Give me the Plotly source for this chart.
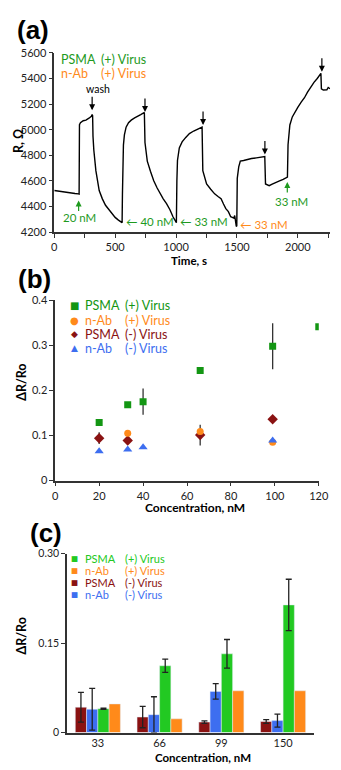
import plotly.graph_objects as go

W, H = 341, 770
FONT = "Lato"

# ---------- Panel (a) data: resistance trace ----------
time_s = [0, 60, 120, 170, 198, 204,
          207, 215, 238, 260, 285, 305, 311,
          315, 318, 325, 342, 369, 395, 421, 450, 474, 500, 527, 553, 557,
          560, 563, 568, 576, 590, 610, 632, 660, 685, 710, 737,
          740, 745, 764, 790, 817, 845, 869, 895, 922, 950, 975, 995, 1003,
          1007, 1012, 1027, 1050, 1080, 1110, 1145, 1180, 1211,
          1214, 1220, 1235, 1251, 1285, 1317, 1345, 1370, 1390, 1409, 1430, 1449, 1462, 1474, 1482, 1488, 1495,
          1499, 1503, 1515, 1528, 1555, 1580, 1620, 1660, 1700, 1725,
          1729, 1735, 1765, 1790, 1817, 1850, 1880, 1909,
          1915, 1920, 1935, 1955, 1975, 2000, 2028, 2055, 2080, 2105, 2133, 2160, 2186, 2190,
          2194, 2210, 2239, 2250, 2265]
resistance = [4525, 4515, 4508, 4502, 4499, 4497,
              5040, 5055, 5070, 5075, 5090, 5105, 5119,
              5110, 4950, 4840, 4678, 4525, 4460, 4410, 4375, 4346, 4315, 4294, 4276, 4274,
              4500, 4760, 4880, 4960, 5020, 5055, 5075, 5092, 5108, 5118, 5134,
              5130, 4900, 4755, 4675, 4602, 4545, 4499, 4460, 4423, 4375, 4320, 4285, 4274,
              4600, 4760, 4858, 4905, 4940, 4970, 4990, 5005, 5024,
              5020, 4680, 4630, 4576, 4535, 4499, 4478, 4461, 4420, 4384, 4360, 4320, 4315, 4310, 4330, 4285, 4244,
              4250, 4620, 4710, 4755, 4760, 4768, 4775, 4780, 4788, 4794,
              4790, 4576, 4563, 4575, 4589, 4600, 4612, 4627,
              4630, 4883, 5037, 5100, 5139, 5175, 5216, 5250, 5293, 5330, 5370, 5400, 5434, 5440,
              5319, 5310, 5312, 5330, 5320]
arrow_t = [311, 745, 1222, 1730, 2198]
arrow_r = [5152, 5139, 5037, 4807, 5452]

# ---------- Panel (b) data ----------
psma_pos_x = [20, 33, 40, 66, 99, 120]
psma_pos_y = [0.129, 0.168, 0.175, 0.244, 0.298, 0.341]
psma_pos_err = [0, 0, 0.029, 0, 0.051, 0]
nab_pos_x = [33, 66, 99]
nab_pos_y = [0.105, 0.109, 0.085]
psma_neg_x = [20, 33, 66, 99]
psma_neg_y = [0.094, 0.089, 0.101, 0.136]
psma_neg_err = [0.013, 0, 0.023, 0]
nab_neg_x = [20, 33, 40, 99]
nab_neg_y = [0.065, 0.069, 0.074, 0.089]

# ---------- Panel (c) data ----------
conc_labels = ["33", "66", "99", "150"]
bar_psma_neg = [0.0425, 0.026, 0.0175, 0.0185]
bar_psma_neg_err = [0.025, 0.018, 0.002, 0.003]
bar_nab_neg = [0.039, 0.030, 0.069, 0.020]
bar_nab_neg_err = [0.035, 0.030, 0.013, 0.011]
bar_psma_pos = [0.040, 0.112, 0.132, 0.214]
bar_psma_pos_err = [0.001, 0.011, 0.024, 0.043]
bar_nab_pos = [0.048, 0.023, 0.070, 0.070]

GREEN_T = "#1e9a1e"
GREEN_M = "#139613"
GREEN_B = "#22c922"
ORANGE = "#ff8a1a"
DRED = "#8a1212"
BLUE = "#3d6ef0"
AX = "#333333"


def px(xp):
    return xp / W


def py(yp):
    return 1 - yp / H


fig = go.Figure()

# Panel (a)
fig.add_trace(go.Scatter(x=time_s, y=resistance, mode="lines",
                         line=dict(color="black", width=1.4),
                         xaxis="x", yaxis="y", showlegend=False, hoverinfo="skip"))

# Panel (b)
fig.add_trace(go.Scatter(x=psma_pos_x, y=psma_pos_y, mode="markers",
                         marker=dict(symbol="square", size=7, color=GREEN_M),
                         error_y=dict(type="data", array=psma_pos_err, color="#333", width=0, thickness=1.3),
                         xaxis="x2", yaxis="y2", showlegend=False))
fig.add_trace(go.Scatter(x=psma_neg_x, y=psma_neg_y, mode="markers",
                         marker=dict(symbol="diamond", size=8, color=DRED),
                         error_y=dict(type="data", array=psma_neg_err, color="#333", width=0, thickness=1.3),
                         xaxis="x2", yaxis="y2", showlegend=False))
fig.add_trace(go.Scatter(x=nab_pos_x, y=nab_pos_y, mode="markers",
                         marker=dict(symbol="circle", size=7, color=ORANGE),
                         xaxis="x2", yaxis="y2", showlegend=False))
fig.add_trace(go.Scatter(x=nab_neg_x, y=nab_neg_y, mode="markers",
                         marker=dict(symbol="triangle-up", size=8, color=BLUE),
                         xaxis="x2", yaxis="y2", showlegend=False))

# Panel (c)
err_style = dict(type="data", color="#222", width=3, thickness=1.3)
fig.add_trace(go.Bar(x=conc_labels, y=bar_psma_neg, marker_color=DRED,
                     error_y=dict(array=bar_psma_neg_err, **err_style),
                     xaxis="x3", yaxis="y3", showlegend=False))
fig.add_trace(go.Bar(x=conc_labels, y=bar_nab_neg, marker_color=BLUE,
                     error_y=dict(array=bar_nab_neg_err, **err_style),
                     xaxis="x3", yaxis="y3", showlegend=False))
fig.add_trace(go.Bar(x=conc_labels, y=bar_psma_pos, marker_color=GREEN_B,
                     error_y=dict(array=bar_psma_pos_err, **err_style),
                     xaxis="x3", yaxis="y3", showlegend=False))
fig.add_trace(go.Bar(x=conc_labels, y=bar_nab_pos, marker_color=ORANGE,
                     xaxis="x3", yaxis="y3", showlegend=False))

axis_common = dict(showline=True, linecolor=AX, linewidth=1.5, ticks="outside",
                   ticklen=4, tickwidth=1.3, tickcolor=AX, showgrid=False, zeroline=False,
                   tickfont=dict(family=FONT, size=11, color="#222"))

fig.update_layout(
    width=W, height=H, margin=dict(l=0, r=0, t=0, b=0),
    paper_bgcolor="white", plot_bgcolor="white",
    barmode="group", bargap=0.27, bargroupgap=0,
    xaxis=dict(domain=[px(53.3), px(340)], range=[0, 2265], anchor="y",
               tickvals=[0, 250, 500, 750, 1000, 1250, 1500, 1750, 2000, 2250],
               ticktext=["0", "", "500", "", "1000", "", "1500", "", "2000", ""],
               **axis_common),
    yaxis=dict(domain=[py(229), py(46.7)], range=[4200, 5600], anchor="x",
               tickvals=[4200, 4400, 4600, 4800, 5000, 5200, 5400, 5600],
               **axis_common),
    xaxis2=dict(domain=[px(54.3), px(328.3)], range=[0, 120], anchor="y2",
                tickvals=[0, 20, 40, 60, 80, 100, 120], **axis_common),
    yaxis2=dict(domain=[py(481.7), py(298.3)], range=[0, 0.4], anchor="x2",
                tickvals=[0, 0.1, 0.2, 0.3, 0.4], ticktext=["0", "0.1", "0.2", "0.3", "0.4"],
                **axis_common),
    xaxis3=dict(domain=[px(66.5), px(323.3)], range=[-0.5, 3.5], anchor="y3",
                showline=True, linecolor=AX, linewidth=1.5, ticks="", showgrid=False,
                zeroline=False, tickfont=dict(family=FONT, size=11, color="#222")),
    yaxis3=dict(domain=[py(738), py(556)], range=[0, 0.30], anchor="x3",
                tickvals=[0, 0.15, 0.30], ticktext=["0", "0.15", "0.30"],
                **{**axis_common, "tickfont": dict(family=FONT, size=10.5, color="#222")}),
)

ann = []


def ptext(x, y, text, size=12.5, color="black", bold=False, xanchor="left", angle=0, family=FONT):
    t = f"<b>{text}</b>" if bold else text
    ann.append(dict(xref="paper", yref="paper", x=px(x), y=py(y), text=t, showarrow=False,
                    xanchor=xanchor, yanchor="middle", textangle=angle,
                    font=dict(family=family, size=size, color=color)))


def dtext(x, y, text, size=11.5, color="black", xanchor="center", family=FONT):
    ann.append(dict(xref="x", yref="y", x=x, y=y, text=text, showarrow=False,
                    xanchor=xanchor, yanchor="middle",
                    font=dict(family=family, size=size, color=color)))


def arrow(x, y, ay, color, length_px):
    ann.append(dict(xref="x", yref="y", x=x, y=y, ax=0, ay=ay * length_px, text="",
                    showarrow=True, arrowhead=2, arrowsize=1, arrowwidth=1.2,
                    arrowcolor=color, standoff=0, startstandoff=0))


# Panel labels
ptext(12, 23.5, "(a)", size=26, bold=True, family="Liberation Sans")
ptext(14, 276.5, "(b)", size=26, bold=True, family="Liberation Sans")
ptext(26, 535, "(c)", size=26, bold=True, family="Liberation Sans")

# Axis titles
ptext(16, 136, "R, Ω", size=12.5, bold=True, xanchor="center", angle=-90)
ptext(193, 257.5, "Time, s", size=11.5, bold=True, xanchor="center")
ptext(19, 382, "ΔR/Ro", size=12.5, bold=True, xanchor="center", angle=-90)
ptext(200, 509.5, "Concentration, nM", size=12, bold=True, xanchor="center")
ptext(19, 640, "ΔR/Ro", size=12.5, bold=True, xanchor="center", angle=-90)
ptext(208, 763, "Concentration, nM", size=11.5, bold=True, xanchor="center")

# Panel (a) legend
ptext(58, 53, "PSMA", color=GREEN_T)
ptext(100, 53, "(+) Virus", color=GREEN_T)
ptext(58, 68, "n-Ab", color=ORANGE)
ptext(100, 68, "(+) Virus", color=ORANGE)

# Panel (a) wash arrows
for t, r in zip(arrow_t, arrow_r):
    arrow(t, r, -1, "black", 15)
dtext(361, 5321, "wash", size=10.5)

# Panel (a) concentration labels
arrow(200, 4448, 1, GREEN_T, 12)
dtext(211, 4315, "20 nM", color=GREEN_T)
dtext(570, 4280, "← 40 nM", color=GREEN_T, xanchor="left")
dtext(1020, 4280, "← 33 nM", color=GREEN_T, xanchor="left")
dtext(1505, 4261, "← 33 nM", color=ORANGE, xanchor="left")
arrow(1914, 4591, 1, GREEN_T, 12)
dtext(1948, 4438, "33 nM", color=GREEN_T)

# Panel (b) legend
rows_b = [(304, "■", "PSMA", "(+) Virus", GREEN_M, 10),
          (319, "●", "n-Ab", "(+) Virus", ORANGE, 10),
          (333, "◆", "PSMA", "(-) Virus", DRED, 9),
          (347, "▲", "n-Ab", "(-) Virus", BLUE, 9)]
for y, sym, a, b, c, s in rows_b:
    ptext(74, y, sym, size=s, color=c, xanchor="center", family="DejaVu Sans")
    ptext(83, y, a, color=c)
    ptext(125, y, b, color=c)

# Panel (c) legend
rows_c = [(560.5, "PSMA", "(+) Virus", GREEN_B),
          (572.8, "n-Ab", "(+) Virus", ORANGE),
          (585.1, "PSMA", "(-) Virus", DRED),
          (597.4, "n-Ab", "(-) Virus", BLUE)]
for y, a, b, c in rows_c:
    ptext(74, y, "■", size=7.5, color=c, xanchor="center", family="DejaVu Sans")
    ptext(83, y, a, size=11, color=c)
    ptext(125, y, b, size=11, color=c)

fig.update_layout(annotations=ann)
fig.write_html("out.html", config={"displayModeBar": False},
               post_script="document.body.style.margin='0';document.body.style.overflow='hidden';")
